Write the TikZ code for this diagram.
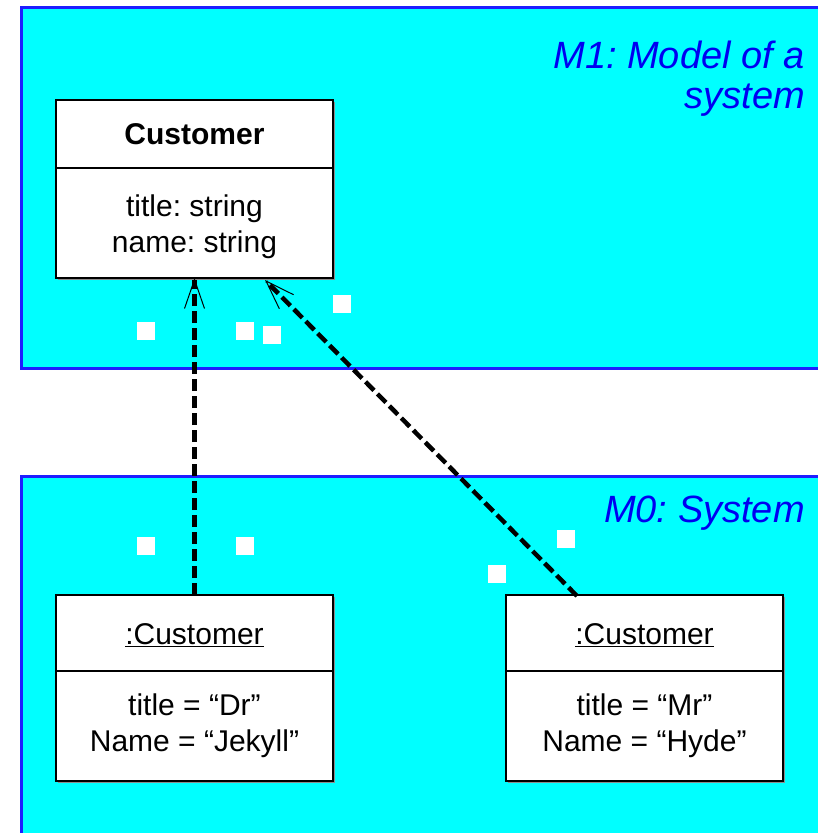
\documentclass[tikz,border=0pt]{standalone}
\usepackage{fontspec}
\setmainfont{Liberation Sans}
\newfontfamily\layerfont{Liberation Sans}
\usetikzlibrary{arrows.meta,calc,shadows}
\definecolor{layercyan}{RGB}{0,255,255}
\definecolor{layerblue}{RGB}{30,30,255}
\definecolor{labelblue}{RGB}{0,0,240}
\frenchspacing
\begin{document}
\begin{tikzpicture}[x=1pt,y=-1pt,
  layer/.style={fill=layercyan,draw=layerblue,line width=3pt},
  umlpart/.style={draw=black,fill=white,line width=1.2pt,minimum width=277pt,
    inner sep=0pt,outer sep=0pt,anchor=north west},
  umlshadow/.style={drop shadow={shadow xshift=2pt,shadow yshift=-2pt,fill=black!45,opacity=1}},
  uml/.style={font=\fontsize{30}{36}\selectfont,align=center},
  layerlabel/.style={font=\layerfont\itshape\fontsize{38}{40}\selectfont,text=labelblue,
    align=right,inner sep=0pt},
  tag/.style={fill=white,minimum size=18pt,inner sep=0pt},
  instanceof/.style={draw=black,line width=4.5pt,dash pattern=on 12pt off 5pt,
    -{Straight Barb[length=29pt,width=20pt,line width=1pt]}}
]
\useasboundingbox (0,0) rectangle (818,833);
\clip (0,0) rectangle (818,833);

% two modelling layers
\draw[layer] (830,368) -- (21,368) -- (21,7) -- (830,7);
\draw[layer] (830,850) -- (21,850) -- (21,476) -- (830,476);

% layer names (the base anchor of a two-line node is its last line)
\node[layerlabel,anchor=base east] (mone) at (805,108) {M1: Model of a\\system};
\node[layerlabel,anchor=base east] (mzero) at (805,522) {M0: System};

% class Customer
\node[umlpart,umlshadow,minimum height=178pt] (cls) at (56,100) {};
\node[umlpart,minimum height=68pt] (cls-head) at (56,100) {};
\node[umlpart,minimum height=110pt] (cls-body) at (56,168) {};
\node[uml,font=\bfseries\fontsize{30}{36}\selectfont] (cls-name) at (cls-head.center) {Customer};
\node[uml] (cls-attr) at ($(cls-body.center)+(0,4)$) {title: string\\name: string};

% object :Customer (Jekyll)
\node[umlpart,umlshadow,minimum height=186pt] (objone) at (56,595) {};
\node[umlpart,minimum height=76pt] (objone-head) at (56,595) {};
\node[umlpart,minimum height=110pt] (objone-body) at (56,671) {};
\node[uml] (objone-name) at ($(objone-head.center)+(0,2)$) {\underline{:Customer}};
\node[uml] (objone-attr) at (objone-body.center) {title = “Dr”\\Name = “Jekyll”};

% object :Customer (Hyde)
\node[umlpart,umlshadow,minimum height=186pt] (objtwo) at (506,595) {};
\node[umlpart,minimum height=76pt] (objtwo-head) at (506,595) {};
\node[umlpart,minimum height=110pt] (objtwo-body) at (506,671) {};
\node[uml] (objtwo-name) at ($(objtwo-head.center)+(0,2)$) {\underline{:Customer}};
\node[uml] (objtwo-attr) at (objtwo-body.center) {title = “Mr”\\Name = “Hyde”};

% instance-of dependencies
\draw[instanceof] (objone-head.north) -- (cls-body.south);
\draw[instanceof] ($(objtwo-head.north west)+(71,1)$) -- ($(cls-body.south west)+(209,2)$);

% empty label tags
\node[tag] (tg1) at (145.5,331) {};
\node[tag] (tg2) at (244.5,331) {};
\node[tag] (tg3) at (271.5,335) {};
\node[tag] (tg4) at (341.5,303.5) {};
\node[tag] (tg5) at (145.5,546) {};
\node[tag] (tg6) at (244.5,546) {};
\node[tag] (tg7) at (565.5,539) {};
\node[tag] (tg8) at (496.5,574) {};
\end{tikzpicture}
\end{document}
